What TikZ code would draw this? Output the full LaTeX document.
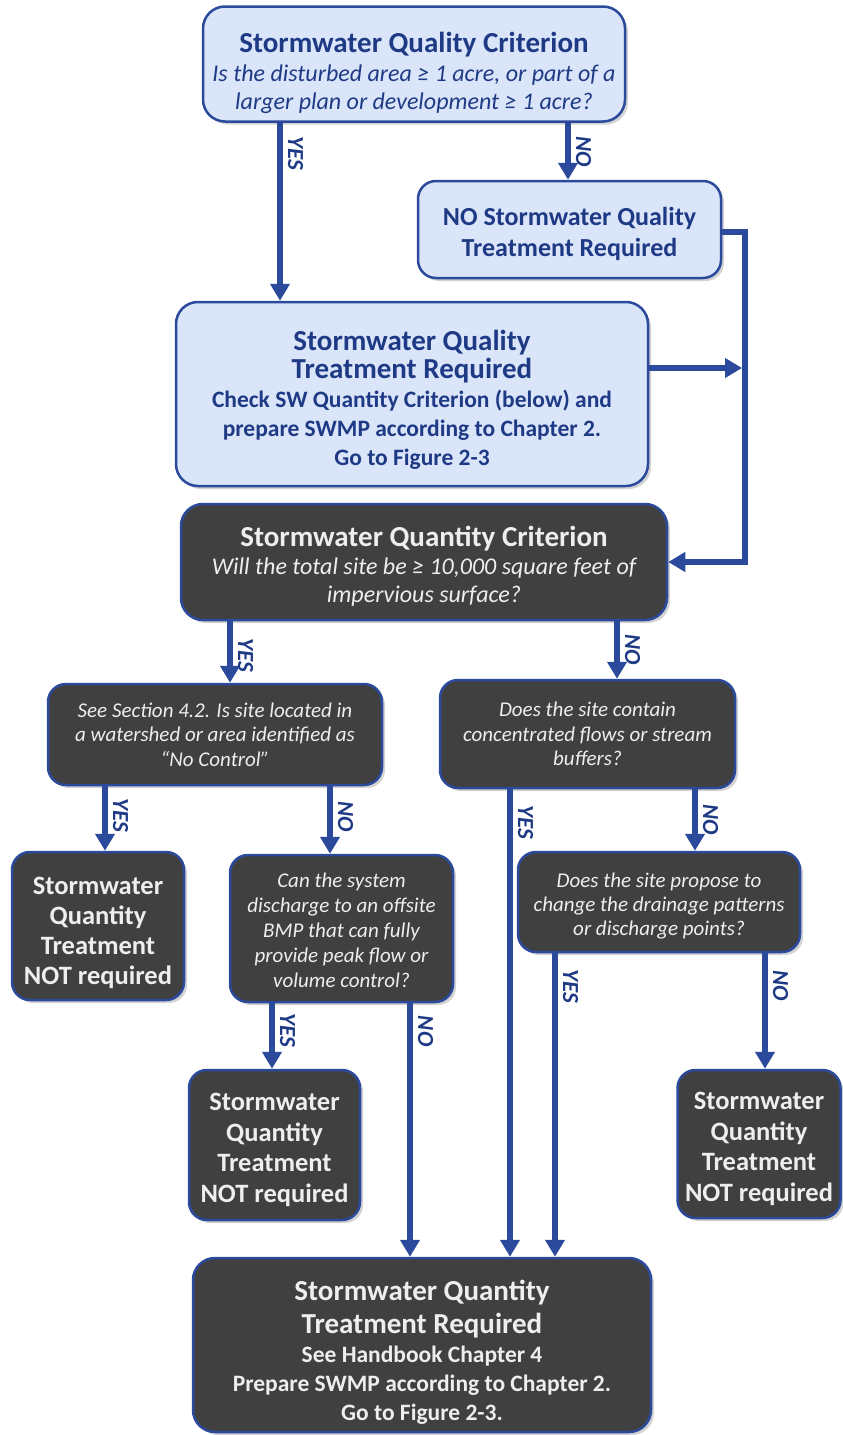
\documentclass[tikz,border=0pt]{standalone}
\usepackage{fontspec}
\setmainfont{Carlito}
\usetikzlibrary{arrows.meta,shadows}
\definecolor{swblue}{HTML}{2B4A9B}
\definecolor{swtext}{HTML}{1F3A85}
\definecolor{swlight}{HTML}{DAE5FA}
\definecolor{swdark}{HTML}{404040}
\definecolor{swwhite}{HTML}{EEEEEE}
\newcommand{\bighd}{\fontsize{29}{31}\selectfont\bfseries}
\newcommand{\subhd}{\fontsize{23.5}{27}\selectfont\bfseries}
\newcommand{\asktxt}{\fontsize{24}{28}\selectfont\itshape}
\newcommand{\smask}{\fontsize{21}{25}\selectfont\itshape}
\newcommand{\nothd}{\fontsize{26.5}{30}\selectfont\bfseries}
\newcommand{\skipto}[1]{\fontsize{10}{#1}\selectfont}
\newcommand{\txtdrop}[1]{\vrule height #1pt width 0pt\relax}
\begin{document}
\begin{tikzpicture}[x=1pt, y=1pt,
   lightbox/.style={draw=swblue, line width=2.5pt, fill=swlight, text=swtext,
      rounded corners=22pt, align=center, inner sep=0pt,
      drop shadow={shadow xshift=3pt, shadow yshift=-3pt, opacity=.35}},
   darkbox/.style={lightbox, fill=swdark, text=swwhite},
   arr/.style={draw=swblue, line width=6pt, -{Triangle[width=19pt, length=17pt]}},
   lbl/.style={rotate=-90, anchor=south, text=swtext, inner sep=5pt,
      font=\fontsize{23}{23}\selectfont\bfseries\itshape}]
   \useasboundingbox (0,0) rectangle (843,-1435);
   % quality part
   \node[lightbox, font=\skipto{28.5}, minimum width=422pt, minimum height=115pt] (qualcrit) at (414,-64)
      {\bighd\txtdrop{39}Stormwater Quality Criterion\\\asktxt Is the disturbed area ≥ 1 acre, or part of a\\\asktxt larger plan or development ≥ 1 acre?};
   \node[lightbox, font=\skipto{31}, rounded corners=18pt, minimum width=303pt, minimum height=97pt] (noqual) at (569.5,-229.5)
      {\subhd\fontsize{26}{30}\selectfont\txtdrop{27}NO Stormwater Quality\\\subhd\fontsize{26}{30}\selectfont Treatment Required};
   \node[lightbox, font=\skipto{28.75}, minimum width=472pt, minimum height=184pt] (qualreq) at (412,-394)
      {\bighd\txtdrop{31}Stormwater Quality\\\bighd Treatment Required\\\subhd Check SW Quantity Criterion (below) and\\\subhd prepare SWMP according to Chapter 2.\\\subhd Go to Figure 2-3};
   % quantity part
   \node[darkbox, font=\skipto{28}, minimum width=486pt, minimum height=116pt] (qtycrit) at (424,-562)
      {\bighd\txtdrop{29}Stormwater Quantity Criterion\\\asktxt Will the total site be ≥ 10,000 square feet of\\\asktxt impervious surface?};
   \node[darkbox, font=\skipto{24.5}, rounded corners=18pt, minimum width=334pt, minimum height=101pt] (watershed) at (215,-734.5)
      {\smask See Section 4.2. Is site located in\\\smask a watershed or area identified as\\\smask “No Control”};
   \node[darkbox, font=\skipto{24.5}, rounded corners=18pt, minimum width=295pt, minimum height=108pt] (flows) at (587.5,-734)
      {\smask Does the site contain\\\smask concentrated flows or stream\\\smask buffers?};
   \node[darkbox, font=\skipto{30}, rounded corners=18pt, minimum width=172pt, minimum height=148pt] (notreqA) at (98,-926)
      {\nothd\txtdrop{31}Stormwater\\\nothd Quantity\\\nothd Treatment\\\nothd NOT required};
   \node[darkbox, font=\skipto{25}, rounded corners=18pt, minimum width=223pt, minimum height=147pt] (offsite) at (341.5,-928.5)
      {\smask\txtdrop{19}Can the system\\\smask discharge to an offsite\\\smask BMP that can fully\\\smask provide peak flow or\\\smask volume control?};
   \node[darkbox, font=\skipto{24}, rounded corners=18pt, minimum width=282pt, minimum height=100pt] (drainage) at (659,-902)
      {\smask\txtdrop{23}Does the site propose to\\\smask change the drainage patterns\\\smask or discharge points?};
   \node[darkbox, font=\skipto{30.5}, rounded corners=18pt, minimum width=171pt, minimum height=150pt] (notreqB) at (274.5,-1145)
      {\nothd\txtdrop{27}Stormwater\\\nothd Quantity\\\nothd Treatment\\\nothd NOT required};
   \node[darkbox, font=\skipto{30.5}, rounded corners=18pt, minimum width=163pt, minimum height=148pt] (notreqC) at (759,-1144)
      {\nothd\txtdrop{27}Stormwater\\\nothd Quantity\\\nothd Treatment\\\nothd NOT required};
   \node[darkbox, font=\skipto{29}, minimum width=458pt, minimum height=174pt] (qtyreq) at (422,-1345)
      {\bighd\txtdrop{35}Stormwater Quantity\\[4pt]\bighd Treatment Required\\\subhd See Handbook Chapter 4\\\subhd Prepare SWMP according to Chapter 2.\\\subhd Go to Figure 2-3.};
   % connectors
   \coordinate (rail) at (745,-232);
   \draw[arr] ([xshift=-134pt]qualcrit.south) -- ([xshift=-134pt]qualcrit.south |- qualreq.north) node[lbl, pos=.17] {YES};
   \draw[arr] ([xshift=154pt]qualcrit.south) -- ([xshift=154pt]qualcrit.south |- noqual.north) node[lbl, pos=.5] {NO};
   \draw[arr] (noqual.east |- rail) -- (rail) |- (qtycrit.east);
   \draw[arr, shorten >=3pt] ([yshift=26pt]qualreq.east) -- ([yshift=26pt]qualreq.east -| rail);
   \draw[arr] ([xshift=-194pt]qtycrit.south) -- ([xshift=-194pt]qtycrit.south |- watershed.north) node[lbl, pos=.55] {YES};
   \draw[arr] ([xshift=193pt]qtycrit.south) -- ([xshift=193pt]qtycrit.south |- flows.north) node[lbl, pos=.5] {NO};
   \draw[arr] ([xshift=-110pt]watershed.south) -- ([xshift=-110pt]watershed.south |- notreqA.north) node[lbl, pos=.45] {YES};
   \draw[arr] ([xshift=115pt]watershed.south) -- ([xshift=115pt]watershed.south |- offsite.north) node[lbl, pos=.45] {NO};
   \draw[arr] ([xshift=-77.5pt]flows.south) -- ([xshift=-77.5pt]flows.south |- qtyreq.north) node[lbl, pos=.07] {YES};
   \draw[arr] ([xshift=107.5pt]flows.south) -- ([xshift=107.5pt]flows.south |- drainage.north) node[lbl, pos=.5] {NO};
   \draw[arr] ([xshift=-69.5pt]offsite.south) -- ([xshift=-69.5pt]offsite.south |- notreqB.north) node[lbl, pos=.42] {YES};
   \draw[arr] ([xshift=68.5pt]offsite.south) -- ([xshift=68.5pt]offsite.south |- qtyreq.north) node[lbl, pos=.11] {NO};
   \draw[arr] ([xshift=-104pt]drainage.south) -- ([xshift=-104pt]drainage.south |- qtyreq.north) node[lbl, pos=.11] {YES};
   \draw[arr] ([xshift=106pt]drainage.south) -- ([xshift=106pt]drainage.south |- notreqC.north) node[lbl, pos=.28] {NO};
\end{tikzpicture}
\end{document}
